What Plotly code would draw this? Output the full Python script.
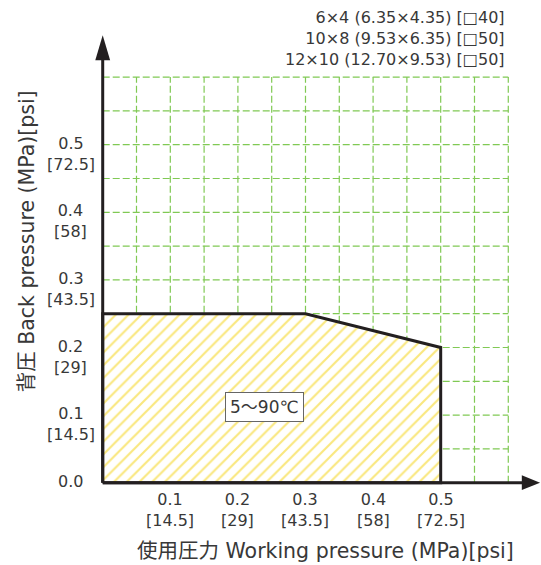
import plotly.graph_objects as go

# Operating region (working pressure vs back pressure), MPa
region_x = [0.0, 0.0, 0.3, 0.5, 0.5, 0.0]
region_y = [0.0, 0.25, 0.25, 0.2, 0.0, 0.0]
region_label = "5～90℃"

# Axis ticks: MPa with psi equivalents
x_ticks = [0.1, 0.2, 0.3, 0.4, 0.5]
x_psi = ["14.5", "29", "43.5", "58", "72.5"]
y_ticks = [0.0, 0.1, 0.2, 0.3, 0.4, 0.5]
y_psi = [None, "14.5", "29", "43.5", "58", "72.5"]

# Dashed grid every 0.05 MPa
grid_vals = [0.05 * i for i in range(1, 13)]
grid_max = 0.6

# Tube sizes (mm) and body sizes
size_notes = [
    "6×4 (6.35×4.35) [□40]",
    "10×8 (9.53×6.35) [□50]",
    "12×10 (12.70×9.53) [□50]",
]

FONT = "DejaVu Sans, Noto Sans CJK JP"
TEXT = "#383838"
AXIS = "#231f20"
GRID = "#80c954"

x_range = [-0.0114, 0.6484]
y_range = [-0.0123, 0.6697]
x_tip = 0.647
y_tip = 0.662

fig = go.Figure()

fig.add_trace(go.Scatter(
    x=region_x, y=region_y, mode="lines", fill="toself",
    fillcolor="white",
    fillpattern=dict(shape="/", fgcolor="#f4d000", bgcolor="white", size=9, solidity=0.24),
    line=dict(color=AXIS, width=3),
    hoverinfo="skip", showlegend=False,
))

shapes = []
for g in grid_vals:
    shapes.append(dict(type="line", xref="x", yref="y", x0=g, x1=g, y0=0, y1=grid_max,
                       line=dict(color=GRID, width=1.2, dash="7px,3px"), layer="below"))
    shapes.append(dict(type="line", xref="x", yref="y", x0=0, x1=grid_max, y0=g, y1=g,
                       line=dict(color=GRID, width=1.2, dash="7px,3px"), layer="below"))

# Axis arrows
shapes.append(dict(type="line", xref="x", yref="y", x0=0, x1=0, y0=0, y1=y_tip - 0.03,
                   line=dict(color=AXIS, width=3), layer="above"))
shapes.append(dict(type="line", xref="x", yref="y", x0=0, x1=x_tip - 0.02, y0=0, y1=0,
                   line=dict(color=AXIS, width=3), layer="above"))
shapes.append(dict(type="path", xref="x", yref="y",
                   path=f"M -0.011 {y_tip - 0.037} L 0.011 {y_tip - 0.037} L 0 {y_tip} Z",
                   fillcolor=AXIS, line=dict(width=0), layer="above"))
shapes.append(dict(type="path", xref="x", yref="y",
                   path=f"M {x_tip - 0.027} -0.011 L {x_tip - 0.027} 0.011 L {x_tip} 0 Z",
                   fillcolor=AXIS, line=dict(width=0), layer="above"))

annotations = []
for v, p in zip(x_ticks, x_psi):
    annotations.append(dict(x=v, y=0, xref="x", yref="y", text=f"{v:.1f}<br>[{p}]",
                            showarrow=False, xanchor="center", yanchor="top", yshift=-5,
                            font=dict(family=FONT, size=16, color=TEXT)))
for v, p in zip(y_ticks, y_psi):
    txt = f"{v:.1f}" if p is None else f"{v:.1f}<br>[{p}]"
    annotations.append(dict(x=0, y=v, xref="x", yref="y", text=txt,
                            showarrow=False, xanchor="center", yanchor="top", yshift=13,
                            xshift=-32, font=dict(family=FONT, size=16, color=TEXT)))

annotations.append(dict(x=0.24, y=0.112, xref="x", yref="y", text=region_label,
                        showarrow=False, bgcolor="white", bordercolor="#666666",
                        borderwidth=1, borderpad=4,
                        font=dict(family=FONT, size=17, color=TEXT)))

annotations.append(dict(x=0.516, y=-0.130, xref="paper", yref="paper",
                        text="使用圧力 Working pressure (MPa)[psi]", showarrow=False,
                        xanchor="center", yanchor="middle",
                        font=dict(family=FONT, size=20.5, color=TEXT)))
annotations.append(dict(x=-0.152, y=0.542, xref="paper", yref="paper",
                        text="背圧 Back pressure (MPa)[psi]", showarrow=False, textangle=-90,
                        xanchor="center", yanchor="middle",
                        font=dict(family=FONT, size=20.5, color=TEXT)))

annotations.append(dict(x=0.924, y=(491 - 39) / 461, xref="paper", yref="paper",
                        text="<br>".join(size_notes), showarrow=False,
                        xanchor="right", yanchor="middle", align="right",
                        font=dict(family=FONT, size=16, color=TEXT)))

fig.update_layout(
    width=541, height=565,
    margin=dict(l=95, r=0, t=30, b=74),
    paper_bgcolor="white", plot_bgcolor="white",
    xaxis=dict(range=x_range, visible=False, fixedrange=True),
    yaxis=dict(range=y_range, visible=False, fixedrange=True),
    shapes=shapes, annotations=annotations,
    showlegend=False,
)

fig.write_html("out.html")
